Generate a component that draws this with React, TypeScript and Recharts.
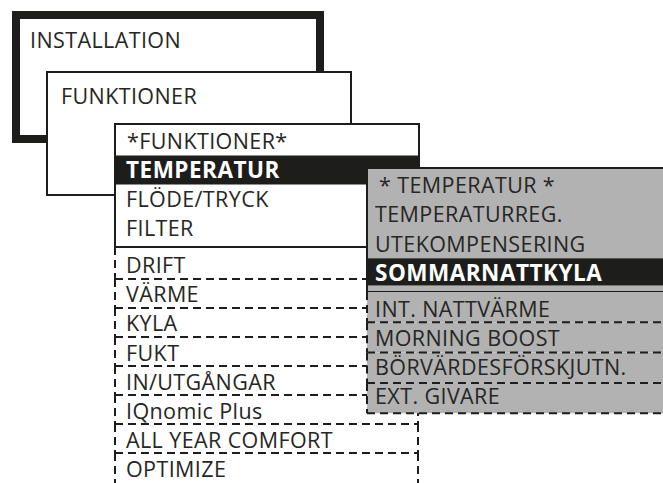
import React from 'react';
import { ComposedChart, XAxis, YAxis, ReferenceArea, Scatter } from 'recharts';

// menu texts
const rootTitle = 'INSTALLATION';
const levelTitle = 'FUNKTIONER';
const subHeader = '*FUNKTIONER*';
const subItems = ['TEMPERATUR', 'FLÖDE/TRYCK', 'FILTER'];
const listItems = ['DRIFT', 'VÄRME', 'KYLA', 'FUKT', 'IN/UTGÅNGAR', 'IQnomic Plus', 'ALL YEAR COMFORT', 'OPTIMIZE'];
const tempHeader = '* TEMPERATUR *';
const tempItems = ['TEMPERATURREG.', 'UTEKOMPENSERING', 'SOMMARNATTKYLA'];
const tempMore = ['INT. NATTVÄRME', 'MORNING BOOST', 'BÖRVÄRDESFÖRSKJUTN.', 'EXT. GIVARE'];
const selected = ['TEMPERATUR', 'SOMMARNATTKYLA'];

const W = 663;
const H = 483;
const INK = '#1d1d1b';
const GREY = '#b2b2b2';
const DASH = '8 5';
const FONT = '"Open Sans", sans-serif';

type Edge = 'solid' | 'dash' | null;

const edges = (fill: string, top: Edge, right: Edge, bottom: Edge, left: Edge, sw = 2) => (p: any) => {
  const { x, y, width, height } = p;
  const seg = (d: string, e: Edge, k: string) =>
    e ? <path key={k} d={d} stroke={INK} strokeWidth={sw} fill="none" strokeDasharray={e === 'dash' ? DASH : undefined} /> : null;
  return (
    <g>
      <rect x={x} y={y} width={width} height={height} fill={fill} stroke="none" />
      {seg(`M${x},${y}H${x + width}`, top, 't')}
      {seg(`M${x + width},${y}V${y + height}`, right, 'r')}
      {seg(`M${x},${y + height}H${x + width}`, bottom, 'b')}
      {seg(`M${x},${y}V${y + height}`, left, 'l')}
    </g>
  );
};

const box = (fill: string, sw: number) => (p: any) => (
  <rect x={p.x} y={p.y} width={p.width} height={p.height} fill={fill} stroke={INK} strokeWidth={sw} />
);

// layout
const subRowTop = 126.5;
const subRowH = 29;
const listFirstLine = 279;
const listStep = 29;
const greyRowTop = 170.5;
const greyRowH = 29.3;
const greyLine = 292;
const greyStep = 30.3;

const labels = [
  { x: 30, y: 48, label: rootTitle },
  { x: 61, y: 104, label: levelTitle },
  { x: 127, y: 149, label: subHeader },
  ...subItems.map((label, i) => ({ x: 126, y: 178 + i * 29, label })),
  ...listItems.map((label, i) => ({ x: 126, y: 273 + i * 29.2, label })),
  { x: 379, y: 193, label: tempHeader },
  ...tempItems.map((label, i) => ({ x: 375, y: 222.3 + i * 29.3, label })),
  ...tempMore.map((label, i) => ({ x: 375, y: 317 + i * 29, label })),
].map((d) => ({ ...d, bold: selected.includes(d.label) }));

const TextMark = (p: any) => (
  <text
    x={p.cx}
    y={p.cy}
    fontFamily={FONT}
    fontSize={p.payload.bold ? 22.5 : 21.5}
    fontWeight={p.payload.bold ? 700 : 400}
    letterSpacing={p.payload.bold ? 0.5 : 0.4}
    fill={p.payload.bold ? '#ffffff' : '#262624'}
  >
    {p.payload.label}
  </text>
);

export default function App() {
  // +1: the header takes the first row of each submenu
  const subSel = subItems.indexOf('TEMPERATUR') + 1;
  const tempSel = tempItems.indexOf('SOMMARNATTKYLA') + 1;
  return (
    <div style={{ width: W, height: H, background: '#fff' }}>
      <style>{'body{margin:0}'}</style>
      <ComposedChart width={W} height={H} margin={{ top: 0, right: 0, bottom: 0, left: 0 }}>
        <XAxis type="number" dataKey="x" domain={[0, W]} hide allowDataOverflow />
        <YAxis type="number" dataKey="y" domain={[0, H]} reversed hide allowDataOverflow />

        <ReferenceArea x1={16} x2={320} y1={15} y2={139} ifOverflow="visible" shape={box('#fff', 8)} />
        <ReferenceArea x1={47} x2={351} y1={72} y2={195} ifOverflow="visible" shape={box('#fff', 2)} />
        <ReferenceArea x1={115} x2={419} y1={124} y2={247} ifOverflow="visible" shape={box('#fff', 2)} />
        <ReferenceArea
          x1={114}
          x2={420}
          y1={subRowTop + subSel * subRowH}
          y2={subRowTop + (subSel + 1) * subRowH}
          ifOverflow="visible"
          shape={edges(INK, null, null, null, null)}
        />

        {listItems.map((item, i) => {
          const top = i === 0 ? 247 : listFirstLine + (i - 1) * listStep;
          const bottom = i === listItems.length - 1 ? H + 10 : listFirstLine + i * listStep;
          return (
            <ReferenceArea
              key={item}
              x1={115}
              x2={418}
              y1={top}
              y2={bottom}
              ifOverflow="visible"
              shape={edges('none', i === 0 ? null : 'dash', 'dash', null, 'dash')}
            />
          );
        })}

        <ReferenceArea x1={367} x2={W + 10} y1={168} y2={greyLine} ifOverflow="visible" shape={edges(GREY, 'solid', null, 'solid', 'solid')} />
        <ReferenceArea
          x1={367}
          x2={W + 10}
          y1={greyRowTop + tempSel * greyRowH}
          y2={greyRowTop + tempSel * greyRowH + 27}
          ifOverflow="visible"
          shape={edges(INK, null, null, null, null)}
        />
        {tempMore.map((item, i) => (
          <ReferenceArea
            key={item}
            x1={367}
            x2={W + 10}
            y1={greyLine + i * greyStep}
            y2={greyLine + (i + 1) * greyStep}
            ifOverflow="visible"
            shape={edges(GREY, i === 0 ? null : 'dash', null, i === tempMore.length - 1 ? 'dash' : null, 'dash')}
          />
        ))}

        <Scatter data={labels} dataKey="y" isAnimationActive={false} shape={TextMark} />
      </ComposedChart>
    </div>
  );
}
